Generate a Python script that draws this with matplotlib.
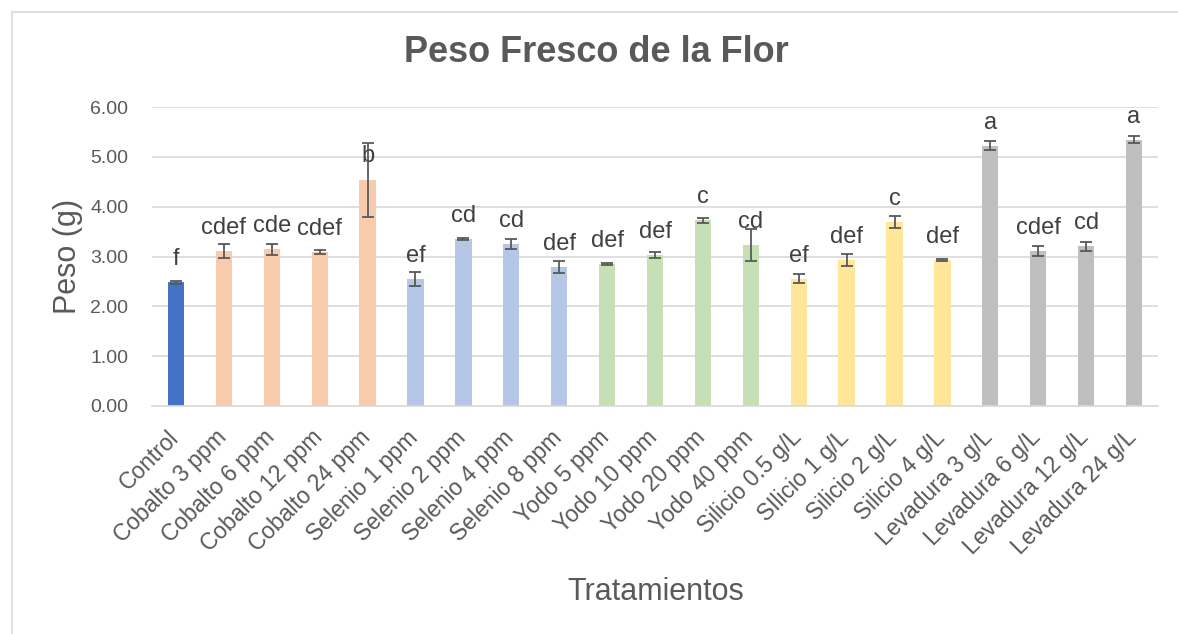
import matplotlib.pyplot as plt
from matplotlib.lines import Line2D
from matplotlib.transforms import ScaledTranslation

plt.rcParams['font.family'] = ['Liberation Sans', 'DejaVu Sans']

# data -----------------------------------------------------------------
tratamientos = ['Control', 'Cobalto 3 ppm', 'Cobalto 6 ppm', 'Cobalto 12 ppm', 'Cobalto 24 ppm',
                'Selenio 1 ppm', 'Selenio 2 ppm', 'Selenio 4 ppm', 'Selenio 8 ppm',
                'Yodo 5 ppm', 'Yodo 10 ppm', 'Yodo 20 ppm', 'Yodo 40 ppm',
                'Silicio 0.5 g/L', 'SIlicio 1 g/L', 'Silicio 2 g/L', 'Silicio 4 g/L',
                'Levadura 3 g/L', 'Levadura 6 g/L', 'Levadura 12 g/L', 'Levadura 24 g/L']
peso = [2.48, 3.11, 3.15, 3.09, 4.54,
        2.55, 3.35, 3.25, 2.79,
        2.84, 3.03, 3.73, 3.23,
        2.55, 2.93, 3.69, 2.93,
        5.22, 3.11, 3.21, 5.34]
error = [0.03, 0.14, 0.11, 0.04, 0.74,
         0.14, 0.02, 0.10, 0.12,
         0.02, 0.06, 0.05, 0.32,
         0.09, 0.12, 0.12, 0.02,
         0.09, 0.10, 0.09, 0.07]
letras = ['f', 'cdef', 'cde', 'cdef', 'b',
          'ef', 'cd', 'cd', 'def',
          'def', 'def', 'c', 'cd',
          'ef', 'def', 'c', 'def',
          'a', 'cdef', 'cd', 'a']
grupo = ['control'] + ['cobalto'] * 4 + ['selenio'] * 4 + ['yodo'] * 4 + ['silicio'] * 4 + ['levadura'] * 4

colores = {'control': '#4472C4', 'cobalto': '#F8CBAD', 'selenio': '#B4C7E7',
           'yodo': '#C5E0B4', 'silicio': '#FFE699', 'levadura': '#BFBFBF'}

# figure ---------------------------------------------------------------
W, H = 1178, 634
fig = plt.figure(figsize=(W / 100, H / 100), dpi=100)
ax = fig.add_axes([152 / W, 1 - 406 / H, (1158 - 152) / W, (406 - 107) / H])

x = list(range(len(tratamientos)))
ax.bar(x, peso, width=0.34, color=[colores[g] for g in grupo], zorder=2)
ax.errorbar(x, peso, yerr=error, fmt='none', ecolor='#595959', elinewidth=1.3,
            capsize=4.5, capthick=1.3, zorder=3)

for xi, yi, t in zip(x, peso, letras):
    ax.annotate(t, (xi, yi), xytext=(0, 12.5), textcoords='offset points',
                ha='center', va='baseline', fontsize=17, color='#404040', zorder=4)

ax.set_xlim(-0.5, len(tratamientos) - 0.5)
ax.set_ylim(0, 6)
ax.set_yticks([0, 1, 2, 3, 4, 5, 6])
ax.set_yticklabels([f'{v:.2f}' for v in range(7)])
ax.set_xticks(x)
ax.set_xticklabels([])

# rotated category labels, anchored just under each bar
lab_tr = ax.get_xaxis_transform() + ScaledTranslation(-0.01, -0.28, fig.dpi_scale_trans)
for xi, t in zip(x, tratamientos):
    ax.text(xi, 0, t, transform=lab_tr, rotation=45, rotation_mode='anchor',
            ha='right', va='center', fontsize=16.5, color='#595959')

ax.tick_params(axis='y', length=0, pad=17, labelsize=14, labelcolor='#595959')
ax.tick_params(axis='x', length=0)
ax.grid(axis='y', color='#D9D9D9', linewidth=1.2, zorder=0)
ax.set_axisbelow(True)
for s in ['top', 'right', 'left']:
    ax.spines[s].set_visible(False)
ax.spines['bottom'].set_color('#D9D9D9')
ax.spines['bottom'].set_linewidth(1.2)

ax.set_ylabel('Peso (g)', fontsize=22, color='#595959', labelpad=5)
fig.text(656 / W, 1 - 592 / H, 'Tratamientos', fontsize=22, color='#595959',
         ha='center', va='center')
fig.text(596 / W, 1 - 53 / H, 'Peso Fresco de la Flor', fontsize=26, fontweight='bold',
         color='#595959', ha='center', va='center')

# chart frame
fig.add_artist(Line2D([12 / W, 12 / W], [0, 1 - 12 / H], color='#D9D9D9', linewidth=1.2))
fig.add_artist(Line2D([12 / W, 1], [1 - 12 / H, 1 - 12 / H], color='#D9D9D9', linewidth=1.2))

fig.savefig('out.png', dpi=100)
